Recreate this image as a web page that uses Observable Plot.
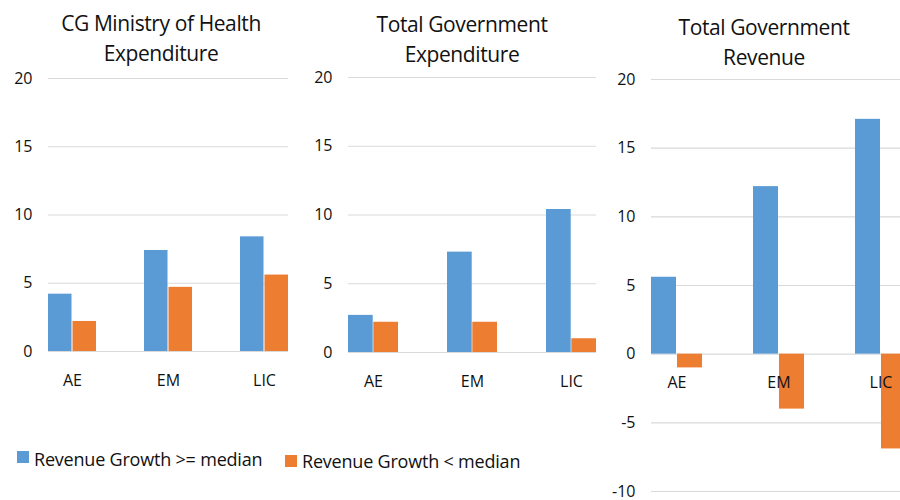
<!DOCTYPE html>
<html>
<head>
<meta charset="utf-8">
<script src="https://cdn.jsdelivr.net/npm/d3@7"></script>
<script src="https://cdn.jsdelivr.net/npm/@observablehq/plot@0.6"></script>
<style>
  html, body { margin: 0; padding: 0; background: #fff; overflow: hidden; }
  #wrap { position: relative; width: 900px; height: 500px; overflow: hidden; font-family: "Open Sans", sans-serif; color: #111; }
  .panel { position: absolute; top: 0; }
  .panel svg { max-width: none !important; }
  .title { position: absolute; width: 300px; text-align: center; font-size: 21px; line-height: 30px; letter-spacing: -0.4px; }
  .sw { position: absolute; width: 12px; height: 12px; }
  .lt { position: absolute; font-size: 18px; line-height: 18px; white-space: nowrap; letter-spacing: -0.2px; }
</style>
</head>
<body>
<div id="wrap"></div>
<script>
const categories = ["AE", "EM", "LIC"];
const healthHigh = [4.2, 7.4, 8.4];
const healthLow = [2.2, 4.7, 5.6];
const expHigh = [2.7, 7.3, 10.4];
const expLow = [2.2, 2.2, 1.0];
const revHigh = [5.6, 12.2, 17.1];
const revLow = [-1.0, -4.0, -6.9];
const yTicksPos = [0, 5, 10, 15, 20];
const yTicksRev = [-10, -5, 0, 5, 10, 15, 20];
const panelTitles = [
  ["CG Ministry of Health", "Expenditure"],
  ["Total Government", "Expenditure"],
  ["Total Government", "Revenue"]
];
const seriesNames = ["Revenue Growth >= median", "Revenue Growth < median"];
const colors = ["#5B9BD5", "#ED7D31"];

const wrap = document.getElementById("wrap");

function panel(cfg) {
  const high = categories.map((c, i) => ({cat: c, v: cfg.high[i]}));
  const low = categories.map((c, i) => ({cat: c, v: cfg.low[i]}));
  const inner = cfg.width - cfg.ml - cfg.mr;
  const bw = inner / 2.5 * 0.5;
  const chart = Plot.plot({
    width: cfg.width,
    height: cfg.height,
    marginLeft: cfg.ml,
    marginRight: cfg.mr,
    marginTop: cfg.mt,
    marginBottom: cfg.mb,
    style: {fontFamily: "'Open Sans', sans-serif", fontSize: "16px", color: "#111", background: "transparent", overflow: "visible"},
    x: {type: "band", domain: categories, paddingInner: 0.5, paddingOuter: 0, axis: null},
    y: {domain: cfg.ydomain, axis: null},
    marks: [
      Plot.ruleY(cfg.ticks, {stroke: "#d9d9d9", strokeWidth: 1.2}),
      Plot.barY(high, {x: "cat", y: "v", fill: colors[0], insetRight: bw / 2 + 0.5}),
      Plot.barY(low, {x: "cat", y: "v", fill: colors[1], insetLeft: bw / 2 + 0.5}),
      Plot.axisY({ticks: cfg.ticks, tickSize: 0, tickPadding: 16, tickFormat: d => String(d), label: null, fontSize: 16}),
      Plot.text(categories, {x: d => d, y: d => 0, dy: 29, fontSize: 16, fill: "#111"})
    ]
  });
  chart.style.maxWidth = "none";
  const div = document.createElement("div");
  div.className = "panel";
  div.style.left = cfg.left + "px";
  div.style.width = cfg.width + "px";
  div.appendChild(chart);
  wrap.appendChild(div);

  const t = document.createElement("div");
  t.className = "title";
  t.style.left = (cfg.tcx - 150) + "px";
  t.style.top = cfg.tt + "px";
  t.innerHTML = cfg.title.join("<br>");
  wrap.appendChild(t);
}

panel({left: 0, width: 300, height: 400, ml: 48, mr: 12, mt: 78, mb: 49, ydomain: [0, 20], ticks: yTicksPos,
  high: healthHigh, low: healthLow, title: panelTitles[0], tcx: 161, tt: 8});
panel({left: 300, width: 300, height: 400, ml: 48, mr: 4, mt: 77, mb: 48, ydomain: [0, 20], ticks: yTicksPos,
  high: expHigh, low: expLow, title: panelTitles[1], tcx: 462, tt: 9});
panel({left: 600, width: 310, height: 500, ml: 51, mr: 4, mt: 79, mb: 9, ydomain: [-10, 20], ticks: yTicksRev,
  high: revHigh, low: revLow, title: panelTitles[2], tcx: 764, tt: 12});

// legend
const legend = [
  {sx: 17, sy: 451, tx: 34, ty: 450},
  {sx: 285, sy: 455, tx: 302, ty: 452}
];
legend.forEach((l, i) => {
  const s = document.createElement("div");
  s.className = "sw";
  s.style.left = l.sx + "px"; s.style.top = l.sy + "px"; s.style.background = colors[i];
  wrap.appendChild(s);
  const t = document.createElement("div");
  t.className = "lt";
  t.style.left = l.tx + "px"; t.style.top = l.ty + "px";
  t.textContent = seriesNames[i];
  wrap.appendChild(t);
});
</script>
</body>
</html>
